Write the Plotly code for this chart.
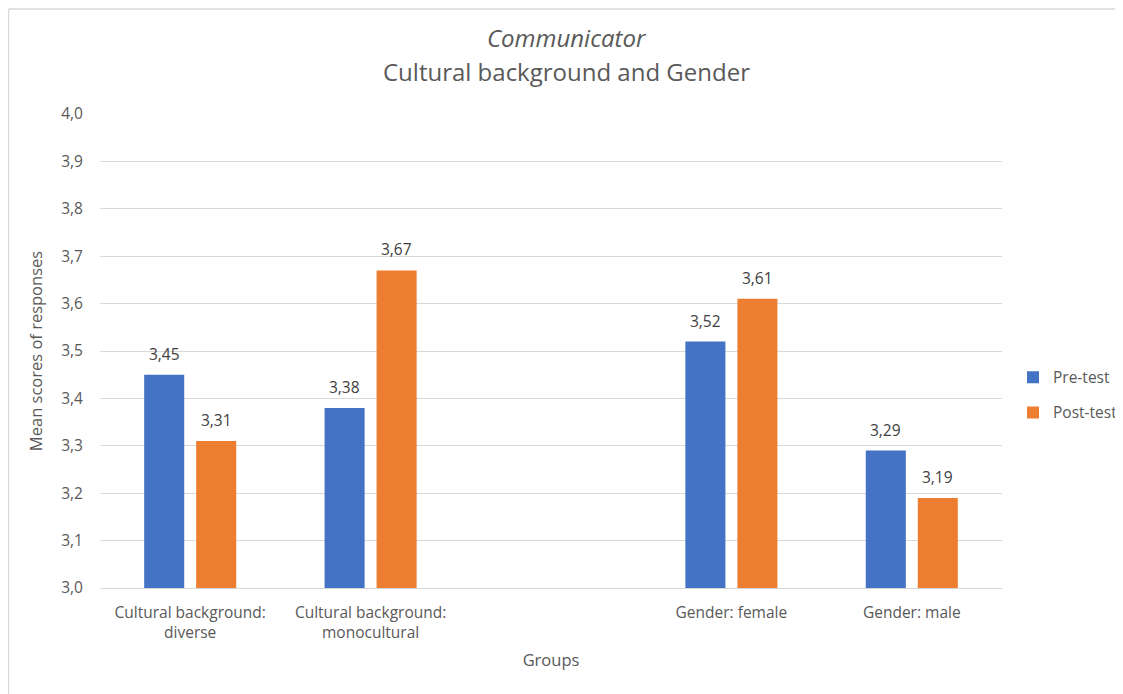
import plotly.graph_objects as go

categories = ["Cultural background:<br>diverse", "Cultural background:<br>monocultural", " ", "Gender: female", "Gender: male"]
series_names = ["Pre-test", "Post-test"]
pre_test = [3.45, 3.38, None, 3.52, 3.29]
post_test = [3.31, 3.67, None, 3.61, 3.19]
y_ticks = [3.0, 3.1, 3.2, 3.3, 3.4, 3.5, 3.6, 3.7, 3.8, 3.9, 4.0]

FONT = "Open Sans, sans-serif"
GREY = "#595959"
COLORS = ["#4472C4", "#ED7D31"]

# page has an 8px body margin; figure size compensates
OFF = 8
W, H = 1123 - OFF, 694 - OFF
L, R, T, B = 100, 1002, 113.5, 588  # plot area in page pixels

TICK = 15.5
AXT = 16.5


def px(x):
    return (x - L) / (R - L)


def py(y):
    return (B - y) / (B - T)


fig = go.Figure()
for name, vals, col in zip(series_names, [pre_test, post_test], COLORS):
    fig.add_trace(go.Bar(x=categories, y=vals, name=name, marker_color=col,
                         marker_line_width=0, legendgroup=name))

# data labels above each bar
shifts = [-26, 26]
for vals, sh in zip([pre_test, post_test], shifts):
    for c, v in zip(categories, vals):
        if v is None:
            continue
        fig.add_annotation(x=c, y=v, xref="x", yref="y", text=f"{v:.2f}".replace(".", ","),
                           showarrow=False, xshift=sh, yshift=21, yanchor="middle",
                           font=dict(size=TICK, color="#404040", family=FONT))

fig.update_layout(
    width=W, height=H,
    separators=",.",
    paper_bgcolor="white", plot_bgcolor="white",
    margin=dict(l=L - OFF, r=W - (R - OFF), t=T - OFF, b=H - (B - OFF), autoexpand=False),
    font=dict(family=FONT, color=GREY, size=TICK),
    barmode="group", bargap=0.4235, bargroupgap=0.23,
    legend=dict(x=px(1013), xanchor="left", y=py(395), yanchor="middle",
                font=dict(size=TICK, color=GREY, family=FONT), tracegroupgap=12,
                bgcolor="rgba(0,0,0,0)"),
    showlegend=True,
    xaxis=dict(title=dict(text="Groups", font=dict(size=AXT, color=GREY), standoff=12),
               showgrid=False, showline=True, linecolor="#D9D9D9", linewidth=1,
               tickfont=dict(size=TICK, color=GREY), ticks="outside", ticklen=10,
               tickcolor="rgba(0,0,0,0)", categoryorder="array",
               categoryarray=categories),
    yaxis=dict(title=dict(text="Mean scores of responses", font=dict(size=AXT, color=GREY), standoff=14),
               range=[3.0, 4.0], tickvals=y_ticks, tickformat=".1f",
               showgrid=True, gridcolor="#D9D9D9", gridwidth=1, zeroline=False,
               showline=False, ticks="outside", ticklen=13, tickcolor="rgba(0,0,0,0)",
               tickfont=dict(size=TICK, color=GREY)),
)

fig.add_annotation(text="<i>Communicator</i>", xref="paper", yref="paper", x=px(567), y=py(37),
                   xanchor="center", yanchor="middle", showarrow=False,
                   font=dict(size=24, color=GREY, family=FONT))
fig.add_annotation(text="Cultural background and Gender", xref="paper", yref="paper", x=px(566), y=py(71),
                   xanchor="center", yanchor="middle", showarrow=False,
                   font=dict(size=24, color=GREY, family=FONT))

fig.add_shape(type="line", xref="paper", yref="paper", x0=px(8.5), x1=px(8.5), y0=py(8.5), y1=py(710),
              line=dict(color="#D9D9D9", width=1.5))
fig.add_shape(type="line", xref="paper", yref="paper", x0=px(8.5), x1=px(1140), y0=py(8.5), y1=py(8.5),
              line=dict(color="#D9D9D9", width=1.5))

fig.write_html("out.html")
